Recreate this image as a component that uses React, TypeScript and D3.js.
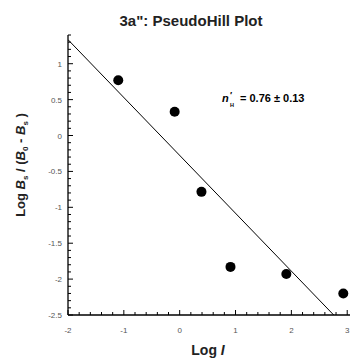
import * as d3 from 'd3';
import * as React from 'react';

// Pseudo-Hill data (log I vs log Bs/(B0-Bs))
const logI = [-1.1, -0.09, 0.39, 0.91, 1.91, 2.93];
const logRatio = [0.77, 0.33, -0.785, -1.83, -1.93, -2.2];
const fitSlope = -0.806;
const fitIntercept = -0.277;

const xTicks = [-2, -1, 0, 1, 2, 3];
const yTicks = [1, 0.5, 0, -0.5, -1, -1.5, -2, -2.5];

const width = 352;
const height = 358;
const margin = { top: 35, right: 0, bottom: 43, left: 68 };
const fontFamily = 'Liberation Sans, Arial, sans-serif';

/**
 * Pseudo-Hill plot
 */
export default function App() {
    const svgRef = React.useRef<SVGSVGElement | null>(null);

    React.useEffect(() => {
        if (!svgRef.current) return;
        const svg = d3.select(svgRef.current);
        svg.selectAll('*').remove();

        const x = d3.scaleLinear().domain([-2, 3.05]).range([margin.left, width - 2]);
        const y = d3.scaleLinear().domain([-2.5, 1.4]).range([height - margin.bottom, margin.top]);

        // title
        svg.append('text')
            .attr('x', 191).attr('y', 26)
            .attr('text-anchor', 'middle')
            .attr('font-family', fontFamily)
            .attr('font-weight', 'bold')
            .attr('font-size', 15)
            .attr('fill', '#222')
            .text('3a": PseudoHill Plot');

        // axes lines
        const x0 = x(-2);
        const yBottom = y(-2.5);
        svg.append('line')
            .attr('x1', x0).attr('x2', x0).attr('y1', y(1.4)).attr('y2', yBottom)
            .attr('stroke', '#000').attr('stroke-width', 1.3);
        svg.append('line')
            .attr('x1', x0).attr('x2', x(3.05)).attr('y1', yBottom).attr('y2', yBottom)
            .attr('stroke', '#000').attr('stroke-width', 1.3);

        // minor + major ticks, pointing inward
        const xMinor = d3.range(-2, 3.05, 0.2);
        svg.append('g').selectAll('line').data(xMinor).join('line')
            .attr('x1', d => x(d)).attr('x2', d => x(d))
            .attr('y1', yBottom).attr('y2', d => Math.abs(d - Math.round(d)) < 1e-6 ? yBottom - 5 : yBottom - 3)
            .attr('stroke', '#000');
        const yMinor = d3.range(-2.5, 1.41, 0.1);
        svg.append('g').selectAll('line').data(yMinor).join('line')
            .attr('y1', d => y(d)).attr('y2', d => y(d))
            .attr('x1', x0).attr('x2', d => Math.abs(d * 2 - Math.round(d * 2)) < 1e-6 ? x0 + 5 : x0 + 3)
            .attr('stroke', '#000');

        // tick labels
        svg.append('g').selectAll('text').data(xTicks).join('text')
            .attr('x', d => x(d)).attr('y', yBottom + 18)
            .attr('text-anchor', 'middle')
            .attr('font-family', fontFamily).attr('font-size', 8).attr('fill', '#555')
            .text(d => String(d));
        svg.append('g').selectAll('text').data(yTicks).join('text')
            .attr('x', x0 - 6).attr('y', d => y(d) + 3)
            .attr('text-anchor', 'end')
            .attr('font-family', fontFamily).attr('font-size', 8).attr('fill', '#555')
            .text(d => String(d));

        // fitted line, clipped to plot area
        svg.append('clipPath').attr('id', 'plotClip')
            .append('rect')
            .attr('x', x0).attr('y', y(1.4)).attr('width', x(3.05) - x0).attr('height', yBottom - y(1.4));
        const lineX = [-2, 3.05];
        svg.append('path')
            .datum(lineX)
            .attr('clip-path', 'url(#plotClip)')
            .attr('d', d3.line<number>().x(d => x(d)).y(d => y(fitIntercept + fitSlope * d)))
            .attr('fill', 'none').attr('stroke', '#000').attr('stroke-width', 1);

        // points
        svg.append('g').selectAll('circle').data(logI).join('circle')
            .attr('cx', d => x(d)).attr('cy', (_, i) => y(logRatio[i]))
            .attr('r', 5).attr('fill', '#000');

        // annotation: n'_H = 0.76 ± 0.13
        const ann = svg.append('g')
            .attr('font-family', fontFamily).attr('font-weight', 'bold')
            .attr('fill', '#000');
        ann.append('text').attr('x', 222).attr('y', 102)
            .attr('font-size', 11).attr('font-style', 'italic').text('n');
        ann.append('text').attr('x', 230).attr('y', 98)
            .attr('font-size', 9).text('\u2032');
        ann.append('text').attr('x', 230).attr('y', 107)
            .attr('font-size', 5.5).text('H');
        ann.append('text').attr('x', 240).attr('y', 102)
            .attr('font-size', 11).text('= 0.76 \u00b1 0.13');

        // x label
        const xl = svg.append('text')
            .attr('x', 208).attr('y', 355)
            .attr('text-anchor', 'middle')
            .attr('font-family', fontFamily).attr('font-weight', 'bold').attr('font-size', 14)
            .attr('fill', '#222');
        xl.append('tspan').text('Log ');
        xl.append('tspan').attr('font-style', 'italic').text('I');

        // y label
        const yl = svg.append('text')
            .attr('transform', 'translate(25,165) rotate(-90)')
            .attr('text-anchor', 'middle')
            .attr('font-family', fontFamily).attr('font-weight', 'bold').attr('font-size', 13)
            .attr('fill', '#222');
        yl.append('tspan').text('Log ');
        yl.append('tspan').attr('font-style', 'italic').text('B');
        yl.append('tspan').attr('font-size', 8).attr('dy', 3).text('s');
        yl.append('tspan').attr('dy', -3).text(' / (');
        yl.append('tspan').attr('font-style', 'italic').text('B');
        yl.append('tspan').attr('font-size', 8).attr('dy', 3).text('0');
        yl.append('tspan').attr('dy', -3).text(' - ');
        yl.append('tspan').attr('font-style', 'italic').text('B');
        yl.append('tspan').attr('font-size', 8).attr('dy', 3).text('s');
        yl.append('tspan').attr('dy', -3).text(' )');
    }, []);

    return (
        <svg
            ref={svgRef}
            width={width}
            height={height}
            style={{ position: 'absolute', left: 0, top: 0, background: '#fff' }}
        />
    );
}
